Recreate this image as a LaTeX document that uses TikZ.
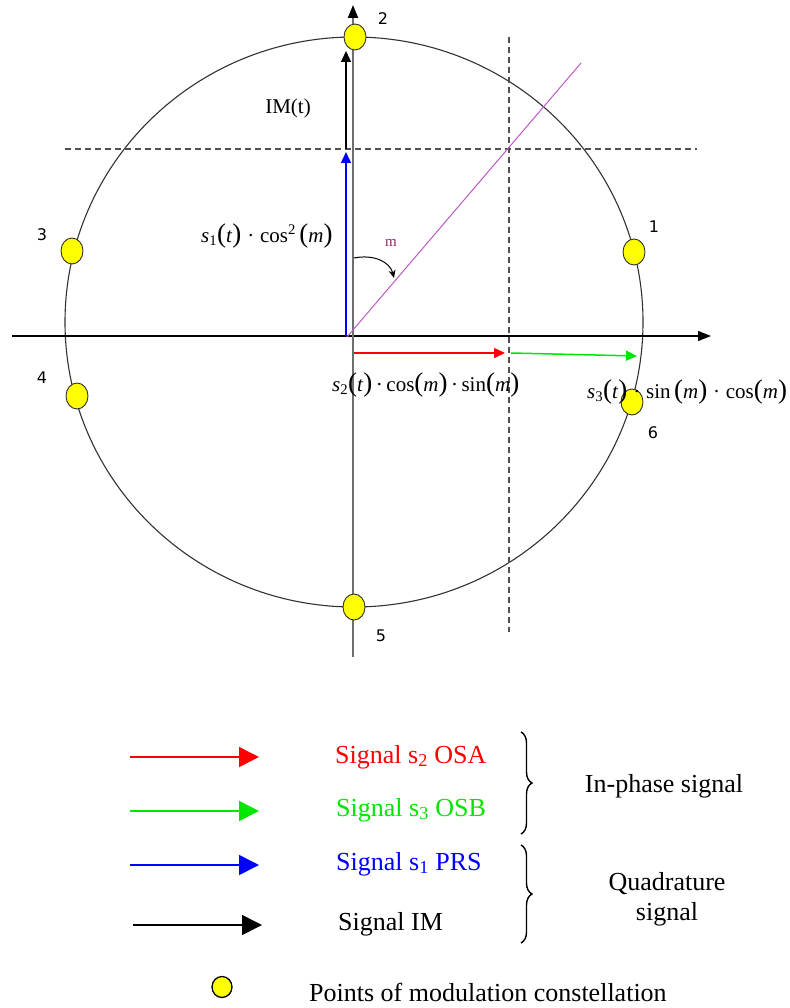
\documentclass[tikz,border=0pt]{standalone}
\usepackage{fontspec}
\setmainfont{Liberation Serif}
\newfontfamily\numfont{DejaVu Sans}
\usetikzlibrary{arrows.meta,decorations.pathreplacing,shapes.geometric}
\definecolor{ptyellow}{RGB}{255,255,0}
\definecolor{circgray}{RGB}{50,50,50}
\definecolor{axgray}{RGB}{110,110,110}
\definecolor{dashgray}{RGB}{80,80,80}
\definecolor{purpleline}{RGB}{190,90,200}
\definecolor{mcol}{RGB}{150,30,100}
\definecolor{sgreen}{RGB}{0,230,0}
\newcommand\lpar{{\fontsize{27}{27}\selectfont(}}
\newcommand\rpar{{\fontsize{27}{27}\selectfont)}}
\begin{document}
\begin{tikzpicture}[x=1pt,y=-1pt,
  cpoint/.style={ellipse,draw=circgray,line width=0.9pt,fill=ptyellow,minimum width=22pt,minimum height=26pt,inner sep=0pt},
  numlbl/.style={font=\numfont\fontsize{16}{18}\selectfont,inner sep=0pt},
  haxis/.style={line width=1.2pt,-{Triangle[length=13pt,width=10pt]}},
  vaxis/.style={axgray,line width=2pt,-{Triangle[length=13pt,width=10pt,fill=black,color=black]}},
  dashln/.style={dashgray,line width=1.1pt,dash pattern=on 6pt off 4pt},
  vec/.style={line width=1.5pt,-{Triangle[length=11pt,width=10pt]}},
  legarrow/.style={line width=1.5pt,-{Triangle[length=20pt,width=20pt]}},
  formula/.style={font=\fontsize{21}{24}\selectfont,inner sep=0pt},
  legtext/.style={font=\fontsize{26}{30}\selectfont,inner sep=0pt,anchor=base west},
  bracestyle/.style={decorate,decoration={brace,amplitude=11pt},line width=1.4pt}
]
\useasboundingbox (0,0) rectangle (789,1008);

% circle
\node[ellipse,draw=circgray,line width=1.1pt,minimum width=578pt,minimum height=570pt,inner sep=0pt] (circ) at (354,322) {};

% dashed lines
\coordinate (dh0) at (65,149);
\coordinate (dh1) at (697,149);
\coordinate (dv0) at (509,37);
\coordinate (dv1) at (509,632);
\draw[dashln] (dh0) -- (dh1);
\draw[dashln] (dv0) -- (dv1);

% axes
\coordinate (ha) at (12,336);
\coordinate (hb) at (711,336);
\draw[haxis] (ha) -- (hb);
\coordinate (vb) at (353,657);
\coordinate (vt) at (353,5);
\draw[vaxis] (vb) -- (vt);

% purple line
\coordinate (o) at (347,337);
\coordinate (pend) at (581,63);
\draw[purpleline,line width=1pt] (o) -- (pend);

% m angle
\coordinate (ma) at (354,258);
\coordinate (mb) at (394,278);
\draw[line width=1pt,-{Stealth[length=8pt,width=7pt]}] (ma) .. controls (374,254) and (390,262) .. (mb);
\node[font=\fontsize{15}{16}\selectfont,text=mcol,inner sep=0pt] (mlbl) at (391,243) {m};

% vectors
\coordinate (im0) at (346,149);
\coordinate (im1) at (346,51);
\draw[vec,line width=1.3pt] (im0) -- (im1);
\coordinate (b0) at (346,336);
\coordinate (b1) at (346,152);
\draw[vec,blue] (b0) -- (b1);
\coordinate (r0) at (354,353);
\coordinate (r1) at (505,353);
\draw[vec,red] (r0) -- (r1);
\coordinate (g0) at (511,353);
\coordinate (g1) at (637,356);
\draw[vec,sgreen] (g0) -- (g1);

% constellation points
\node[cpoint] (p1) at (634,252) {};
\node[cpoint] (p2) at (355,37) {};
\node[cpoint] (p3) at (72,251) {};
\node[cpoint] (p4) at (77,396) {};
\node[cpoint] (p5) at (354,607) {};
\node[cpoint] (p6) at (632,402) {};

\node[numlbl] (l1) at (654,227) {1};
\node[numlbl] (l2) at (383,19) {2};
\node[numlbl] (l3) at (42,235) {3};
\node[numlbl] (l4) at (42,378) {4};
\node[numlbl] (l5) at (381,636) {5};
\node[numlbl] (l6) at (653,433) {6};

% labels
\node[font=\fontsize{21}{24}\selectfont,inner sep=0pt] (imt) at (288,108) {IM(t)};
\node[formula,anchor=west] (f1) at (201,236) {\textit{s}\textsubscript{1}\lpar\textit{t}\rpar\;·\;cos\textsuperscript{2}\,\lpar\textit{m}\rpar};
\node[formula,anchor=west] (f2) at (332,385) {\textit{s}\textsubscript{2}\lpar\textit{t}\rpar\,·\,cos\lpar\textit{m}\rpar\,·\,sin\lpar\textit{m}\rpar};
\node[formula,anchor=west] (f3) at (587,392) {\textit{s}\textsubscript{3}\lpar\textit{t}\rpar\;·\;sin\,\lpar\textit{m}\rpar\;·\;cos\lpar\textit{m}\rpar};

% legend
\coordinate (la0) at (130,757); \coordinate (la1) at (259,757);
\coordinate (lb0) at (130,811); \coordinate (lb1) at (259,811);
\coordinate (lc0) at (130,865); \coordinate (lc1) at (259,865);
\coordinate (ld0) at (133,925); \coordinate (ld1) at (262,925);
\draw[legarrow,red] (la0) -- (la1);
\draw[legarrow,sgreen] (lb0) -- (lb1);
\draw[legarrow,blue] (lc0) -- (lc1);
\draw[legarrow,black] (ld0) -- (ld1);

\node[legtext,text=red] (t1) at (335,763) {Signal s\textsubscript{2} OSA};
\node[legtext,text=sgreen] (t2) at (336,816) {Signal s\textsubscript{3} OSB};
\node[legtext,text=blue] (t3) at (336,870) {Signal s\textsubscript{1} PRS};
\node[legtext] (t4) at (338,930) {Signal IM};

\coordinate (br1a) at (521,732); \coordinate (br1b) at (521,834);
\draw[bracestyle] (br1a) -- (br1b);
\coordinate (br2a) at (521,845); \coordinate (br2b) at (521,943);
\draw[bracestyle] (br2a) -- (br2b);

\node[legtext,anchor=base] (inph) at (664,792) {In-phase signal};
\node[legtext,anchor=base] (quad1) at (667,890) {Quadrature};
\node[legtext,anchor=base] (quad2) at (667,920) {signal};

\node[ellipse,draw=black,line width=1.3pt,fill=ptyellow,minimum width=20pt,minimum height=21pt,inner sep=0pt] (legpt) at (222,987) {};
\node[legtext] (ptxt) at (309,1001) {Points of modulation constellation};
\end{tikzpicture}
\end{document}
